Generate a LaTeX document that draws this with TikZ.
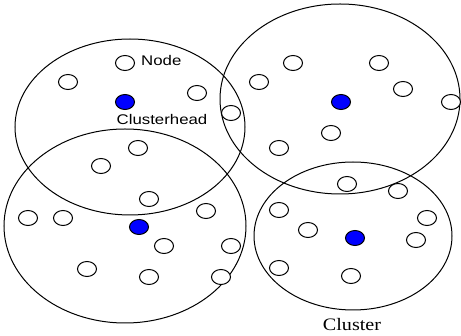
\documentclass[tikz,border=0pt]{standalone}
\usepackage{fontspec}
\setmainfont{Liberation Serif}
\newfontfamily\arialfont{Liberation Sans}
\usetikzlibrary{shapes.geometric}
\begin{document}
\begin{tikzpicture}[x=1pt,y=-1pt,
  cluster/.style={draw=black,line width=1pt},
  sensor/.style={ellipse,draw=black,line width=1pt,fill=white,inner sep=0pt,minimum width=19pt,minimum height=15pt},
  head/.style={sensor,fill=blue},
  sanslabel/.style={inner sep=0pt,font=\arialfont\fontsize{14}{14}\selectfont},
  seriflabel/.style={inner sep=0pt,font=\fontsize{17.5}{17.5}\selectfont}]
\useasboundingbox (0,0) rectangle (461,336);

% cluster boundaries
\draw[cluster] (130,127) ellipse [x radius=115, y radius=88];
\draw[cluster] (340,99) ellipse [x radius=120, y radius=95];
\draw[cluster] (125,226) ellipse [x radius=121, y radius=97];
\draw[cluster] (353,236) ellipse [x radius=99, y radius=74];

% upper left cluster
\node[sensor] (a1) at (125,63) {};
\node[sensor] (a2) at (68,82) {};
\node[head]   (ha) at (125,102) {};
\node[sensor] (a3) at (197,93) {};
\node[sensor] (a4) at (231,113) {};
\node[sensor] (a5) at (138,148) {};
\node[sensor] (a6) at (101,166) {};

% upper right cluster
\node[sensor] (b1) at (293,63) {};
\node[sensor] (b2) at (259,82) {};
\node[sensor] (b3) at (379,63) {};
\node[sensor] (b4) at (403,89) {};
\node[head]   (hb) at (341,102) {};
\node[sensor] (b5) at (451,102) {};
\node[sensor] (b6) at (331,133) {};
\node[sensor] (b7) at (279,148) {};

% lower left cluster
\node[sensor] (c1) at (149,199) {};
\node[sensor] (c2) at (28,218) {};
\node[sensor] (c3) at (63,218) {};
\node[head]   (hc) at (139,227) {};
\node[sensor] (c4) at (206,211) {};
\node[sensor] (c5) at (164,246) {};
\node[sensor] (c6) at (231,246) {};
\node[sensor] (c7) at (87,269) {};
\node[sensor] (c8) at (149,277) {};
\node[sensor] (c9) at (221,277) {};

% lower right cluster
\node[sensor] (d1) at (347,184) {};
\node[sensor] (d2) at (398,191) {};
\node[sensor] (d3) at (279,210) {};
\node[sensor] (d4) at (308,230) {};
\node[head]   (hd) at (355,238) {};
\node[sensor] (d5) at (427,218) {};
\node[sensor] (d6) at (416,240) {};
\node[sensor] (d7) at (279,268) {};
\node[sensor] (d8) at (351,276) {};

% labels
\node[sanslabel,anchor=base west] (lnode) at (141,66) {\scalebox{1.2}[1]{Node}};
\node[sanslabel,anchor=base] (lhead) at (162,124.5) {\scalebox{1.2}[1]{Clusterhead}};
\node[seriflabel,anchor=base] (lcluster) at (352,331) {\scalebox{1.15}[1]{Cluster}};
\end{tikzpicture}
\end{document}
